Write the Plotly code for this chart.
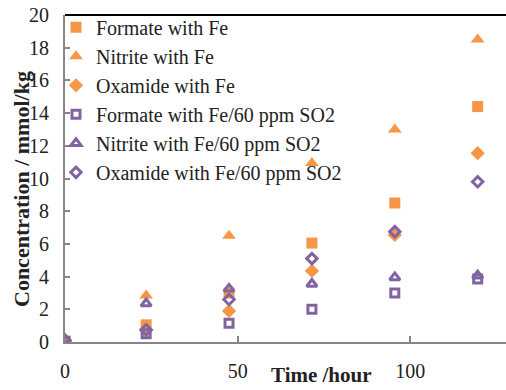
import plotly.graph_objects as go

hours = [0, 23.5, 47.5, 71.5, 95.5, 119.5]

formate_fe = [0.05, 1.05, 3.0, 6.05, 8.5, 14.4]
nitrite_fe = [0.1, 2.85, 6.5, 10.95, 13.0, 18.5]
oxamide_fe = [0.05, 0.7, 1.9, 4.35, 6.55, 11.55]
formate_so2 = [0.05, 0.5, 1.15, 2.0, 3.0, 3.85]
nitrite_so2 = [0.15, 2.35, 3.25, 3.55, 3.95, 4.05]
oxamide_so2 = [0.1, 0.75, 2.6, 5.1, 6.75, 9.8]

names = ["Formate with Fe", "Nitrite with Fe", "Oxamide with Fe",
         "Formate with Fe/60 ppm SO2", "Nitrite with Fe/60 ppm SO2",
         "Oxamide with Fe/60 ppm SO2"]

x_ticks = [0, 50, 100]
y_ticks = list(range(0, 21, 2))

ORANGE = "#F79646"
PURPLE = "#8064A2"

series = [formate_fe, nitrite_fe, oxamide_fe, formate_so2, nitrite_so2, oxamide_so2]
symbols = ["square", "triangle-up", "diamond", "square-open", "triangle-up-open", "diamond-open"]
colors = [ORANGE, ORANGE, ORANGE, PURPLE, PURPLE, PURPLE]
sizes = [11, 12, 11, 8, 9, 8]

fig = go.Figure()
for i, (vals, sym, col, sz, nm) in enumerate(zip(series, symbols, colors, sizes, names)):
    open_ = sym.endswith("open")
    fig.add_trace(go.Scatter(
        x=hours, y=vals, mode="markers", name=nm, legendgroup=f"g{i}",
        marker=dict(symbol=sym, size=sz, color=col,
                    line=dict(width=3 if open_ else 0, color=col)),
    ))

font_family = "Liberation Serif, Times New Roman, serif"

fig.update_layout(
    width=506, height=390,
    margin=dict(l=65, r=0, t=15, b=48),
    paper_bgcolor="white", plot_bgcolor="white",
    font=dict(family=font_family, size=19, color="#222"),
    showlegend=True,
    legend=dict(x=(56 - 65) / 441, y=1.022, xanchor="left", yanchor="top",
                bgcolor="rgba(0,0,0,0)", font=dict(size=20, color="#222"),
                tracegroupgap=0, itemwidth=30),
    xaxis=dict(range=[0, 127.7], tickvals=x_ticks, showline=True, linecolor="#868686",
               linewidth=2, ticks="inside", ticklen=6, tickwidth=1.5, tickcolor="#868686",
               showgrid=False, zeroline=False, ticklabelstandoff=10,
               tickfont=dict(size=20)),
    yaxis=dict(range=[0, 20], tickvals=y_ticks, showline=True, linecolor="#868686",
               linewidth=2, ticks="inside", ticklen=5, tickwidth=1.5, tickcolor="#868686",
               showgrid=False, zeroline=False, ticklabelstandoff=10,
               tickfont=dict(size=20)),
    shapes=[dict(type="line", xref="paper", yref="paper", x0=0, x1=1, y0=1, y1=1,
                 line=dict(color="black", width=2))],
    annotations=[
        dict(text="<b>Time /hour</b>", xref="paper", yref="paper", x=(321 - 65) / 441,
             y=-0.102, xanchor="center", yanchor="middle", showarrow=False,
             font=dict(size=21, color="#222")),
        dict(text="<b>Concentration / mmol/kg</b>", xref="paper", yref="paper",
             x=(22 - 65) / 441, y=(342 - 189) / 327, xanchor="center", yanchor="middle",
             textangle=-90, showarrow=False, font=dict(size=22, color="#222")),
    ],
)

fig.write_html("out.html")
